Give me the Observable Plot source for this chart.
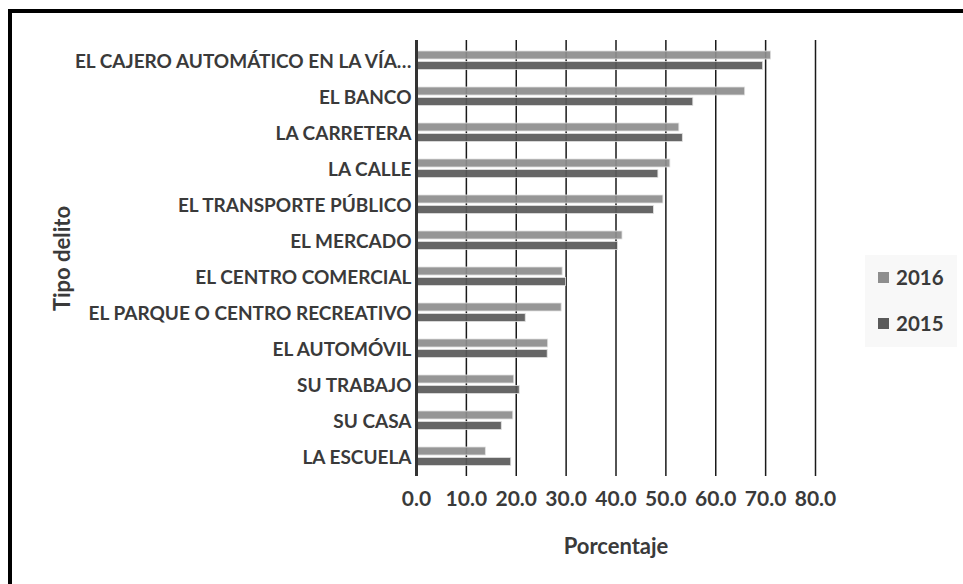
<!DOCTYPE html>
<html><head><meta charset="utf-8">
<script src="https://cdn.jsdelivr.net/npm/d3@7"></script>
<script src="https://cdn.jsdelivr.net/npm/@observablehq/plot@0.6"></script>
<style>
body{margin:0;background:#fff;font-family:Lato,sans-serif;}
#wrap{position:relative;width:963px;height:584px;overflow:hidden;background:#fff;}
#frame{position:absolute;left:8px;top:9px;width:1000px;height:620px;border-left:4px solid #000;border-top:4px solid #000;}
#chart{position:absolute;left:0;top:0;}
#legend{position:absolute;left:865px;top:255px;width:92px;height:92px;background:#f8f8f8;}
.item{position:absolute;left:13px;display:flex;align-items:center;font-weight:bold;font-size:20.5px;color:#3a3a3a;}
.sw{width:11px;height:11px;margin-right:7px;}
</style></head>
<body><div id="wrap"><div id="frame"></div><div id="chart"></div><div id="legend"></div></div>
<script>
const categories = [
  "EL CAJERO AUTOMÁTICO EN LA VÍA…",
  "EL BANCO",
  "LA CARRETERA",
  "LA CALLE",
  "EL TRANSPORTE PÚBLICO",
  "EL MERCADO",
  "EL CENTRO COMERCIAL",
  "EL PARQUE O CENTRO RECREATIVO",
  "EL AUTOMÓVIL",
  "SU TRABAJO",
  "SU CASA",
  "LA ESCUELA"
];
const values2016 = [71.1, 65.9, 52.7, 50.9, 49.5, 41.3, 29.3, 29.1, 26.4, 19.6, 19.4, 13.9];
const values2015 = [69.5, 55.5, 53.4, 48.5, 47.6, 40.4, 30.0, 21.9, 26.3, 20.7, 17.1, 19.0];
const xTicks = [0, 10, 20, 30, 40, 50, 60, 70, 80];
const seriesNames = ["2016", "2015"];
const seriesColors = ["#8e8e8e", "#5a5a5a"];

const d2016 = categories.map((c, i) => ({cat: c, value: values2016[i]}));
const d2015 = categories.map((c, i) => ({cat: c, value: values2015[i]}));

const chart = Plot.plot({
  width: 963,
  height: 584,
  marginLeft: 416,
  marginRight: 148,
  marginTop: 40,
  marginBottom: 108,
  style: {fontFamily: "Lato, sans-serif", fontWeight: "bold", fontSize: "19px", color: "#3a3a3a", background: "transparent"},
  x: {domain: [0, 80]},
  y: {domain: categories, padding: 0},
  marks: [
    Plot.gridX(xTicks.slice(1), {stroke: "#1a1a1a", strokeOpacity: 1, strokeWidth: 1.5}),
    Plot.barX(d2016, {x: "value", y: "cat", fill: seriesColors[0], insetTop: 9, insetBottom: 19, stroke: "#e0e0e0", strokeWidth: 0.8, fillOpacity: 0.93}),
    Plot.barX(d2015, {x: "value", y: "cat", fill: seriesColors[1], insetTop: 19.5, insetBottom: 8.5, stroke: "#e0e0e0", strokeWidth: 0.8, fillOpacity: 0.93}),
    Plot.ruleX([0], {stroke: "#333", strokeWidth: 3}),
    Plot.axisX({ticks: xTicks, tickFormat: d => d.toFixed(1), tickSize: 0, tickPadding: 15, fontSize: 21, label: null}),
    Plot.axisX({ticks: [], label: "Porcentaje", labelAnchor: "center", labelArrow: false, labelOffset: 77, fontSize: 22}),
    Plot.axisY({tickSize: 0, tickPadding: 5, dy: 1, label: null, fontSize: 19}),
    Plot.axisY({ticks: [], label: "Tipo delito", labelAnchor: "center", labelArrow: false, labelOffset: 362, fontSize: 22})
  ]
});
document.getElementById("chart").appendChild(chart);

const legend = document.getElementById("legend");
seriesNames.forEach((name, i) => {
  const it = document.createElement("div");
  it.className = "item";
  it.style.top = (i === 0 ? 10 : 56) + "px";
  const sw = document.createElement("div");
  sw.className = "sw";
  sw.style.background = seriesColors[i];
  it.appendChild(sw);
  const t = document.createElement("span");
  t.textContent = name;
  it.appendChild(t);
  legend.appendChild(it);
});
</script></body></html>
